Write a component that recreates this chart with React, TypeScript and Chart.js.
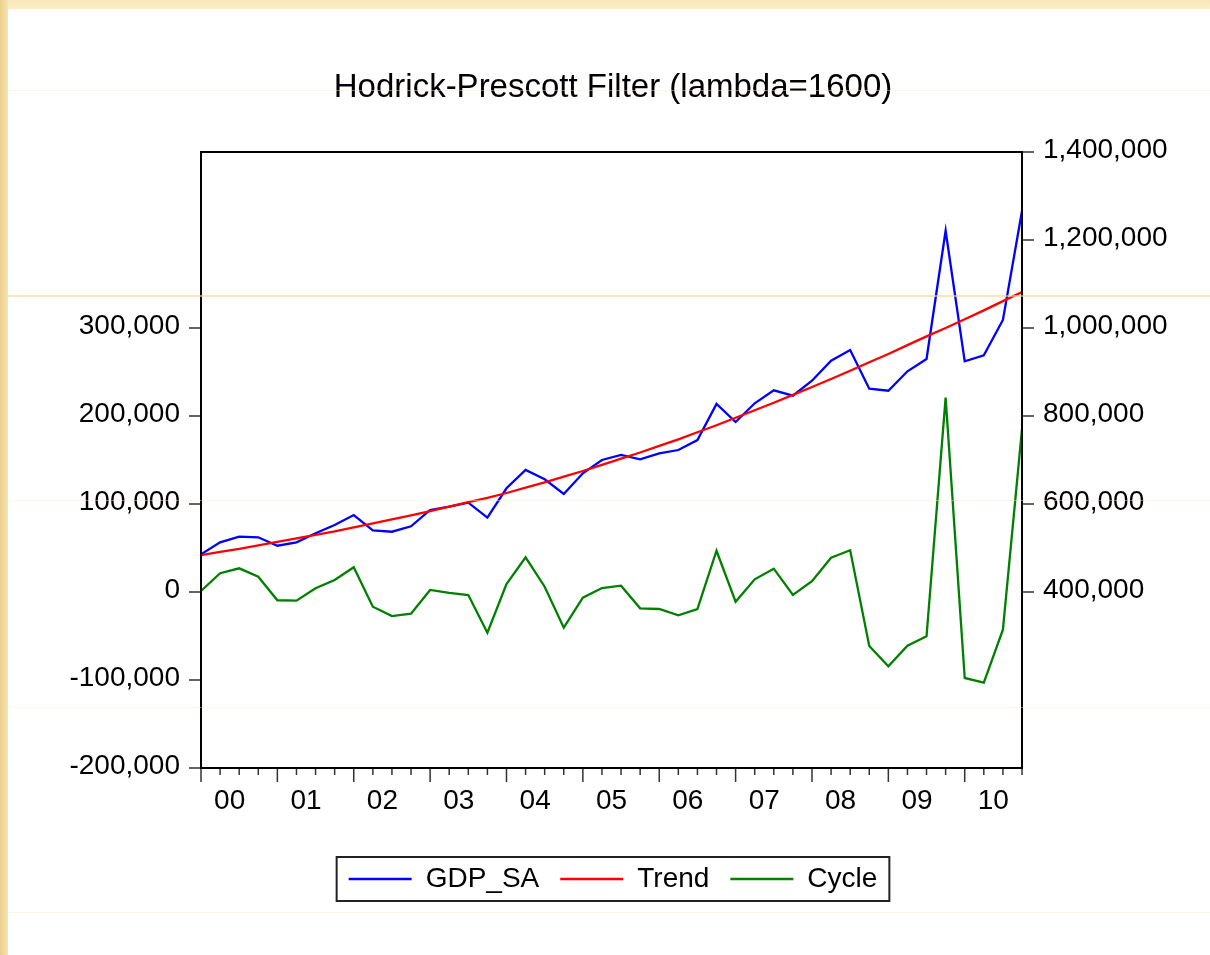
import React, { useEffect, useRef } from 'react';
import { Chart, registerables } from 'chart.js';

Chart.register(...registerables);

// ---------- data ----------
const quarters = [
  '2000Q1', '2000Q2', '2000Q3', '2000Q4',
  '2001Q1', '2001Q2', '2001Q3', '2001Q4',
  '2002Q1', '2002Q2', '2002Q3', '2002Q4',
  '2003Q1', '2003Q2', '2003Q3', '2003Q4',
  '2004Q1', '2004Q2', '2004Q3', '2004Q4',
  '2005Q1', '2005Q2', '2005Q3', '2005Q4',
  '2006Q1', '2006Q2', '2006Q3', '2006Q4',
  '2007Q1', '2007Q2', '2007Q3', '2007Q4',
  '2008Q1', '2008Q2', '2008Q3', '2008Q4',
  '2009Q1', '2009Q2', '2009Q3', '2009Q4',
  '2010Q1', '2010Q2', '2010Q3', '2010Q4',
];

const yearLabels = ['00', '01', '02', '03', '04', '05', '06', '07', '08', '09', '10'];

const gdpSA = [
  485700, 512900, 525700, 524300,
  505200, 512900, 533400, 552300,
  575000, 540200, 537000, 549300,
  586400, 593900, 603000, 568900,
  635700, 677300, 656100, 622700,
  669800, 700000, 711400, 701600,
  715200, 722700, 745400, 827300,
  786400, 828900, 858400, 846100,
  880200, 925700, 950000, 862000,
  857500, 901600, 929500, 1221100,
  924300, 937900, 1018200, 1265900,
];

const trend = [
  484000, 491000, 498000, 506000,
  514000, 522000, 530000, 538000,
  547000, 556000, 565000, 574000,
  584000, 594000, 604000, 614000,
  625000, 637000, 649000, 662000,
  675000, 689000, 703000, 717000,
  732000, 747000, 763000, 779000,
  796000, 813000, 830000, 848000,
  866000, 884000, 903000, 922000,
  941000, 961000, 981000, 1000000,
  1020000, 1040000, 1061000, 1082000,
];

const cycle = [
  1100, 21300, 26900, 17400,
  -9400, -9900, 4200, 13600,
  28100, -16700, -27300, -24700,
  2300, -1000, -3400, -46300,
  9100, 39400, 6000, -40600,
  -6500, 4500, 7200, -18500,
  -19300, -26500, -19300, 46900,
  -11000, 14400, 26500, -3400,
  12200, 39000, 47400, -61400,
  -84500, -61000, -50300, 220800,
  -97700, -103000, -42800, 185200,
];

const leftTicks = [-200000, -100000, 0, 100000, 200000, 300000];
const rightTicks = [400000, 600000, 800000, 1000000, 1200000, 1400000];

const titleText = 'Hodrick-Prescott Filter (lambda=1600)';
const seriesNames = ['GDP_SA', 'Trend', 'Cycle'];

// ---------- style ----------
const FONT = "'Liberation Sans', Arial, Helvetica, sans-serif";
const fmt = (v: number) => Number(v).toLocaleString('en-US');

const framePlugin = {
  id: 'eviewsFrame',
  afterDraw(chart: any) {
    const { ctx, chartArea: a, scales } = chart;
    ctx.save();
    ctx.strokeStyle = '#333';
    ctx.lineWidth = 1.5;
    ctx.beginPath();
    leftTicks.forEach((v) => {
      const y = scales.y.getPixelForValue(v);
      ctx.moveTo(a.left - 12, y);
      ctx.lineTo(a.left, y);
    });
    rightTicks.forEach((v) => {
      const y = scales.y1.getPixelForValue(v);
      ctx.moveTo(a.right, y);
      ctx.lineTo(a.right + 12, y);
    });
    quarters.forEach((_q, i) => {
      const x = scales.x.getPixelForValue(i);
      const len = i % 4 === 0 ? 14 : 7;
      ctx.moveTo(x, a.bottom);
      ctx.lineTo(x, a.bottom + len);
    });
    ctx.stroke();

    ctx.strokeStyle = '#000';
    ctx.lineWidth = 2;
    ctx.strokeRect(a.left, a.top, a.right - a.left, a.bottom - a.top);

    const lg = chart.legend;
    if (lg && lg.legendHitBoxes && lg.legendHitBoxes.length) {
      const hb = lg.legendHitBoxes;
      const l = Math.min(...hb.map((h: any) => h.left));
      const r = Math.max(...hb.map((h: any) => h.left + h.width));
      const cy = hb[0].top + hb[0].height / 2;
      ctx.strokeStyle = '#222';
      ctx.lineWidth = 2;
      ctx.strokeRect(l - 12, cy - 22, r - l + 24, 44);
    }
    ctx.restore();
  },
};

export default function App() {
  const canvasRef = useRef<HTMLCanvasElement | null>(null);

  useEffect(() => {
    if (!canvasRef.current) return;
    const toXY = (arr: number[]) => arr.map((v, i) => ({ x: i, y: v }));
    const tickFont = { family: FONT, size: 28 };
    const lineW = 2.3;
    const chart = new Chart(canvasRef.current, {
      type: 'line',
      data: {
        datasets: [
          {
            label: seriesNames[0],
            data: toXY(gdpSA),
            yAxisID: 'y1',
            borderColor: '#0000FF',
            backgroundColor: '#0000FF',
            borderWidth: lineW,
            pointRadius: 0,
            pointBorderWidth: lineW,
            tension: 0,
            order: 2,
          },
          {
            label: seriesNames[1],
            data: toXY(trend),
            yAxisID: 'y1',
            borderColor: '#FF0000',
            backgroundColor: '#FF0000',
            borderWidth: lineW,
            pointRadius: 0,
            pointBorderWidth: lineW,
            tension: 0,
            order: 1,
          },
          {
            label: seriesNames[2],
            data: toXY(cycle),
            yAxisID: 'y',
            borderColor: '#008000',
            backgroundColor: '#008000',
            borderWidth: lineW,
            pointRadius: 0,
            pointBorderWidth: lineW,
            tension: 0,
            order: 3,
          },
        ],
      },
      options: {
        responsive: false,
        animation: false,
        devicePixelRatio: 1,
        layout: { padding: { left: 16, right: 0, top: 0, bottom: 52 } },
        plugins: {
          title: {
            display: true,
            text: titleText,
            color: '#000',
            font: { family: FONT, size: 33, weight: 'normal' },
            padding: { top: 68, bottom: 44.4 },
          },
          legend: {
            display: true,
            position: 'bottom',
            labels: {
              color: '#000',
              font: { family: FONT, size: 28 },
              usePointStyle: true,
              pointStyle: 'line',
              pointStyleWidth: 63,
              padding: 21,
              sort: (a: any, b: any) => a.datasetIndex - b.datasetIndex,
            },
          },
          tooltip: { enabled: false },
        },
        scales: {
          x: {
            type: 'linear',
            min: 0,
            max: quarters.length - 1,
            afterBuildTicks: (s: any) => {
              s.ticks = yearLabels.map((_l, k) => ({ value: 4 * k + 1.5 }));
            },
            afterFit: (s: any) => {
              s.height = 76;
            },
            ticks: {
              autoSkip: false,
              maxRotation: 0,
              padding: 16,
              color: '#000',
              font: tickFont,
              callback: (_v: any, idx: number) => yearLabels[idx],
            },
            grid: { display: false, drawTicks: false },
            border: { display: false },
          },
          y: {
            type: 'linear',
            position: 'left',
            min: -200000,
            max: 500000,
            afterBuildTicks: (s: any) => {
              s.ticks = leftTicks.map((v) => ({ value: v }));
            },
            afterFit: (s: any) => {
              s.width = 185;
            },
            ticks: {
              padding: 21,
              labelOffset: -2,
              color: '#000',
              font: tickFont,
              callback: (v: any) => fmt(v),
            },
            grid: { display: false, drawTicks: false },
            border: { display: false },
          },
          y1: {
            type: 'linear',
            position: 'right',
            min: 0,
            max: 1400000,
            afterBuildTicks: (s: any) => {
              s.ticks = rightTicks.map((v) => ({ value: v }));
            },
            afterFit: (s: any) => {
              s.width = 188;
            },
            ticks: {
              padding: 21,
              labelOffset: -2,
              color: '#000',
              font: tickFont,
              callback: (v: any) => fmt(v),
            },
            grid: { display: false, drawTicks: false },
            border: { display: false },
          },
        },
      },
      plugins: [framePlugin],
    } as any);
    return () => chart.destroy();
  }, []);

  const faint = (top: number, color: string, h: number) => (
    <div
      style={{
        position: 'absolute',
        left: 8,
        top,
        width: 1202,
        height: h,
        background: color,
        pointerEvents: 'none',
      }}
    />
  );

  return (
    <div
      style={{
        position: 'absolute',
        left: 0,
        top: 0,
        width: 1210,
        height: 955,
        background: '#FFFFFF',
        overflow: 'hidden',
      }}
    >
      <div
        style={{
          position: 'absolute',
          left: 0,
          top: 0,
          width: 1210,
          height: 9,
          background: 'linear-gradient(to bottom, #F8E7B8, #FAEDC6)',
        }}
      />
      <div
        style={{
          position: 'absolute',
          left: 0,
          top: 0,
          width: 8,
          height: 955,
          background: 'linear-gradient(to right, #EACF8C, #F6E4B2)',
        }}
      />
      <canvas
        ref={canvasRef}
        width={1210}
        height={955}
        style={{ position: 'absolute', left: 0, top: 0, width: 1210, height: 955 }}
      />
      {faint(90, 'rgba(248, 236, 190, 0.45)', 1)}
      {faint(295, 'rgba(244, 214, 140, 0.6)', 2)}
      {faint(500, 'rgba(248, 236, 190, 0.45)', 1)}
      {faint(707, 'rgba(248, 236, 190, 0.45)', 1)}
      {faint(912, 'rgba(248, 236, 190, 0.45)', 1)}
    </div>
  );
}
